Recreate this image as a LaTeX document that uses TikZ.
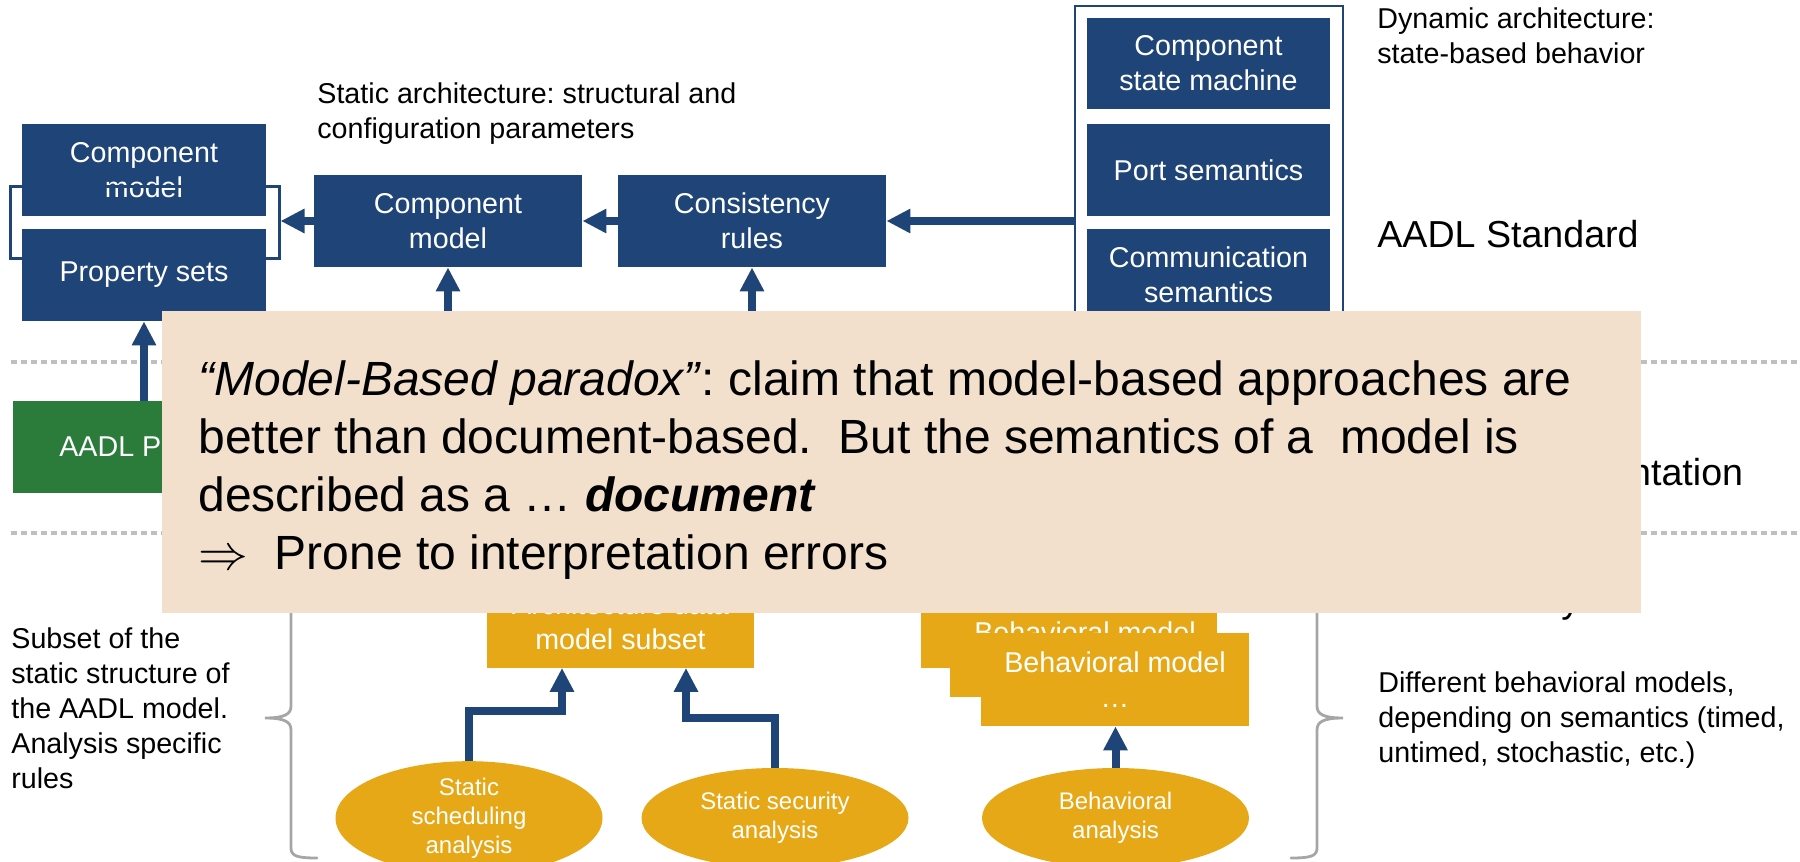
\documentclass[tikz,border=0pt]{standalone}
\usepackage{fontspec}
\setmainfont{Liberation Sans}
\usetikzlibrary{arrows.meta,shapes.geometric}
\frenchspacing

\definecolor{navy}{HTML}{1F4477}
\definecolor{gold}{HTML}{E6A817}
\definecolor{leaf}{HTML}{2B7B3B}
\definecolor{sand}{HTML}{F2E0CC}
\definecolor{rulegray}{HTML}{BFBFBF}
\definecolor{bracegray}{HTML}{A6A6A6}

% one drawing unit = 0.5pt
\newcommand{\PX}{*0.5pt}
\newcommand{\fsmall}{\fontsize{14.33pt}{17.5pt}\selectfont}
\newcommand{\fell}{\fontsize{12pt}{14.5pt}\selectfont}
\newcommand{\fbig}{\fontsize{18.8pt}{23pt}\selectfont}
\newcommand{\fnote}{\fontsize{24pt}{29pt}\selectfont}

\begin{document}
\begin{tikzpicture}[x=0.5pt,y=-0.5pt,
  bluebox/.style={rectangle, fill=navy, text=white, inner sep=0pt, align=center, font=\fsmall},
  goldbox/.style={rectangle, fill=gold, text=white, inner sep=0pt, align=center, font=\fsmall},
  oval/.style={ellipse, fill=gold, text=white, inner sep=0pt, align=center, font=\fell,
               minimum width=267\PX, minimum height=100\PX},
  flow/.style={draw=navy, line width=4pt, -{Triangle[length=12pt,width=11.5pt]}},
  txt/.style={inner sep=0pt, anchor=north west, align=left, font=\fsmall},
  sep/.style={draw=rulegray, line width=2.25pt, dash pattern=on 3pt off 2pt},
  curly/.style={draw=bracegray, line width=1.4pt, line cap=round}
]
\path[use as bounding box] (0,0) rectangle (1800,862);

% layer separators
\coordinate (s1a) at (11,362);  \coordinate (s1b) at (1800,362);
\coordinate (s2a) at (11,533);  \coordinate (s2b) at (1800,533);
\draw[sep] (s1a) -- (s1b);
\draw[sep] (s2a) -- (s2b);

% static architecture row
\node[bluebox, minimum width=244\PX, minimum height=92\PX] (cmA) at (144,170) {Component\\model};
\node[bluebox, minimum width=244\PX, minimum height=92\PX] (props) at (144,275) {Property sets};
\node[draw=navy, line width=1.5pt, minimum width=269\PX, minimum height=72\PX, inner sep=0pt] (grp) at (144.5,222) {};
\node[bluebox, minimum width=268\PX, minimum height=92\PX] (cmB) at (448,221) {Component\\model};
\node[bluebox, minimum width=268\PX, minimum height=92\PX] (cons) at (752,221) {Consistency\\rules};

% dynamic architecture group
\node[draw=navy, line width=1.25pt, minimum width=268\PX, minimum height=340\PX, inner sep=0pt] (dyn) at (1209,176) {};
\node[bluebox, minimum width=243\PX, minimum height=91\PX] (csm) at (1208.5,63.5) {Component\\state machine};
\node[bluebox, minimum width=243\PX, minimum height=92\PX] (port) at (1208.5,170) {Port semantics};
\node[bluebox, minimum width=243\PX, minimum height=92\PX] (comm) at (1208.5,275) {Communication\\semantics};

% implementation row
\node[rectangle, fill=leaf, text=white, font=\fsmall, inner sep=0pt,
      minimum width=261\PX, minimum height=92\PX] (parser) at (143,447) {AADL Parser};
\coordinate (implB) at (448,401);
\coordinate (implC) at (752,401);

% connectors, upper part
\draw[flow] (dyn.west |- cons.east) -- (cons.east);
\draw[flow] (cons.west) -- (cmB.east);
\draw[flow] (cmB.west) -- (grp.east |- cmB.west);
\draw[flow] (parser.north -| props.south) -- (props.south);
\draw[flow] (implB) -- (cmB.south);
\draw[flow] (implC) -- (cons.south);

% captions
\node[txt] (statcap) at (317,82) {Static architecture: structural and\\configuration parameters};
\node[txt] (dyncap) at (1377,7) {Dynamic architecture:\\state-based behavior};
\node[txt, font=\fbig] (stdcap) at (1377,220) {AADL Standard};
\node[txt, font=\fbig] (implcap) at (1377,458) {AADL Implementation};
\node[txt, font=\fbig] (analcap) at (1377,584.5) {AADL Analysis};
\node[txt] (leftcap) at (11,627.5) {Subset of the\\static structure of\\the AADL model.\\Analysis specific\\rules};
\node[txt] (rightcap) at (1378,671.5) {Different behavioral models,\\depending on semantics (timed,\\untimed, stochastic, etc.)};

% analysis row
\node[goldbox, minimum width=267\PX, minimum height=92\PX] (arch) at (620.5,621.5) {Architecture data\\model subset};
\node[goldbox, minimum width=296\PX, minimum height=90\PX, anchor=south west] (behA) at (921,668) {};
\node[inner sep=0pt, text=white, font=\fsmall] (behAtxt) at (1085,632.5) {Behavioral model};
\node[goldbox, minimum width=283\PX, minimum height=64\PX, anchor=north west] (behB) at (950,633) {};
\node[goldbox, minimum width=268\PX, minimum height=93\PX] (behC) at (1115,679.5) {Behavioral model\\…};

\node[oval] (e1) at (469,818) {Static\\scheduling\\analysis};
\node[oval] (e2) at (775,818) {Static security\\analysis};
\node[oval] (e3) at (1115.5,818) {Behavioral\\analysis};

\draw[flow] (e1.north) -- ++(0,-50) -| ([xshift=-29.25pt]arch.south);
\draw[flow] (e2.north) -- ++(0,-50) -| ([xshift=32.75pt]arch.south);
\draw[flow] (e3.north) -- (e3.north |- behC.south);

% braces
\draw[curly] (317,578) .. controls (297,578) and (291,580) .. (291,590) -- (291,706)
  .. controls (291,714) and (285,718) .. (265,718)
  .. controls (285,718) and (291,722) .. (291,730) -- (291,848)
  .. controls (291,856) and (297,858) .. (317,858);
\draw[curly] (1291,578) .. controls (1311,578) and (1317,580) .. (1317,590) -- (1317,706)
  .. controls (1317,714) and (1323,718) .. (1343,718)
  .. controls (1323,718) and (1317,722) .. (1317,730) -- (1317,848)
  .. controls (1317,856) and (1311,858) .. (1291,858);

% overlay note
\node[fill=sand, inner sep=0pt, minimum width=1479\PX, minimum height=302\PX, anchor=north west] (note) at (162,311) {};
\node[inner sep=0pt, anchor=north west, align=left, font=\fnote] (notetxt) at (198,360.5)
  {\textit{“Model-Based paradox”}: claim that model-based approaches are\\
   better than document-based.\ \ But the semantics of a\ \ model is\\
   described as a … \textbf{\textit{document}}\\
   $\Rightarrow$\ \ Prone to interpretation errors};
\end{tikzpicture}
\end{document}
